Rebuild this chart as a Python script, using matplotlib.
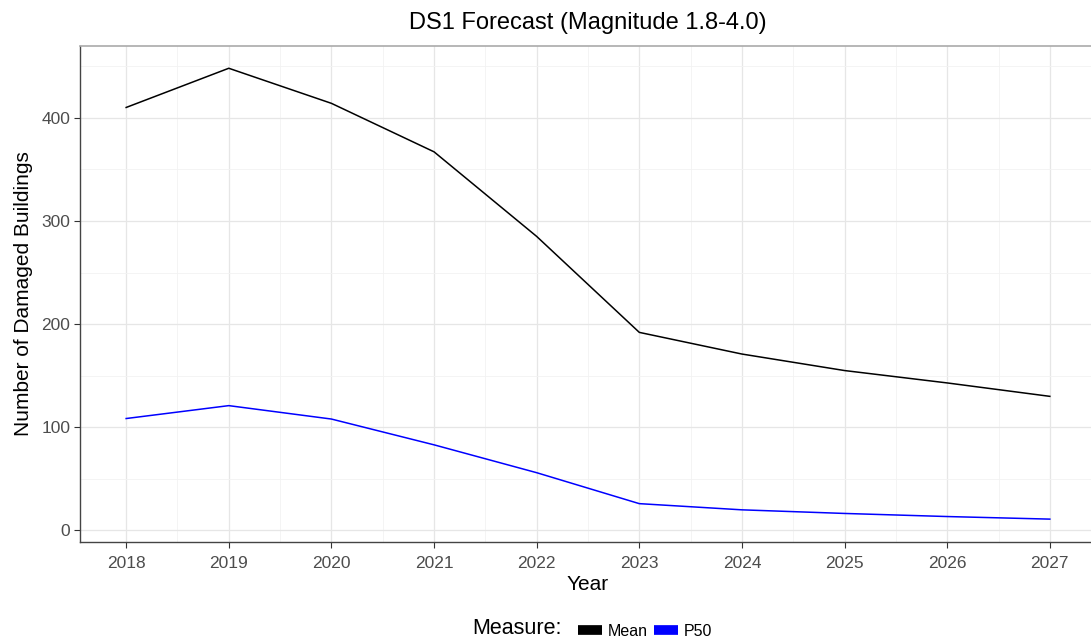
import matplotlib.pyplot as plt
from matplotlib.lines import Line2D
from matplotlib.ticker import MultipleLocator

plt.rcParams['font.family'] = ['Liberation Sans', 'DejaVu Sans']

# values
years = [2018, 2019, 2020, 2021, 2022, 2023, 2024, 2025, 2026, 2027]
mean_vals = [410, 448, 414, 367, 285, 192, 171, 155, 143, 130]
p50_vals = [108.5, 121, 108, 83, 56, 26, 20, 16.5, 13.5, 11]
series_names = ['Mean', 'P50']
series_colors = ['black', 'blue']

fig = plt.figure(figsize=(10.91, 6.43), dpi=100)
ax = fig.add_axes([0.0733, 0.1576, 0.9313, 0.7713])

ax.plot(years, mean_vals, color=series_colors[0], lw=1.1)
ax.plot(years, p50_vals, color=series_colors[1], lw=1.1)

# ggplot-like 5% expansion
lo = min(min(mean_vals), min(p50_vals))
hi = max(max(mean_vals), max(p50_vals))
pad = (hi - lo) * 0.05
ax.set_ylim(lo - pad, hi + pad)
xpad = (years[-1] - years[0]) * 0.05
ax.set_xlim(years[0] - xpad, years[-1] + xpad)

ax.set_xticks(years)
ax.yaxis.set_major_locator(MultipleLocator(100))
ax.yaxis.set_minor_locator(MultipleLocator(50))
ax.xaxis.set_minor_locator(MultipleLocator(0.5))
ax.grid(which='major', color='#e6e6e6', lw=0.9)
ax.grid(which='minor', color='#f2f2f2', lw=0.6)
ax.set_axisbelow(True)
ax.tick_params(which='minor', length=0)
ax.tick_params(which='major', length=4, width=0.8, color='#333333',
               labelcolor='#4d4d4d', labelsize=12.5, pad=3)
ax.tick_params(axis='x', which='major', pad=6)

for side in ['left', 'bottom']:
    ax.spines[side].set_color('#444444')
    ax.spines[side].set_linewidth(1.0)
ax.spines['top'].set_color('#aaaaaa')
ax.spines['top'].set_linewidth(1.2)
ax.spines['right'].set_visible(False)

ax.set_xlabel('Year', fontsize=15, labelpad=3)
ax.set_ylabel('Number of Damaged Buildings', fontsize=15, labelpad=6)
ax.set_title('DS1 Forecast (Magnitude 1.8-4.0)', fontsize=17, pad=12)

# legend at the bottom, ggplot style
handles = [Line2D([0], [0], color=c, lw=7, solid_capstyle='butt') for c in series_colors]
fig.text(0.515, 0.006, 'Measure:', fontsize=15.5, ha='right', va='bottom')
fig.legend(handles, series_names, loc='lower left', bbox_to_anchor=(0.517, -0.016),
           ncol=2, frameon=False, fontsize=11.5, handlelength=1.5,
           handletextpad=0.35, columnspacing=0.4)

fig.savefig('out.png', dpi=100)
